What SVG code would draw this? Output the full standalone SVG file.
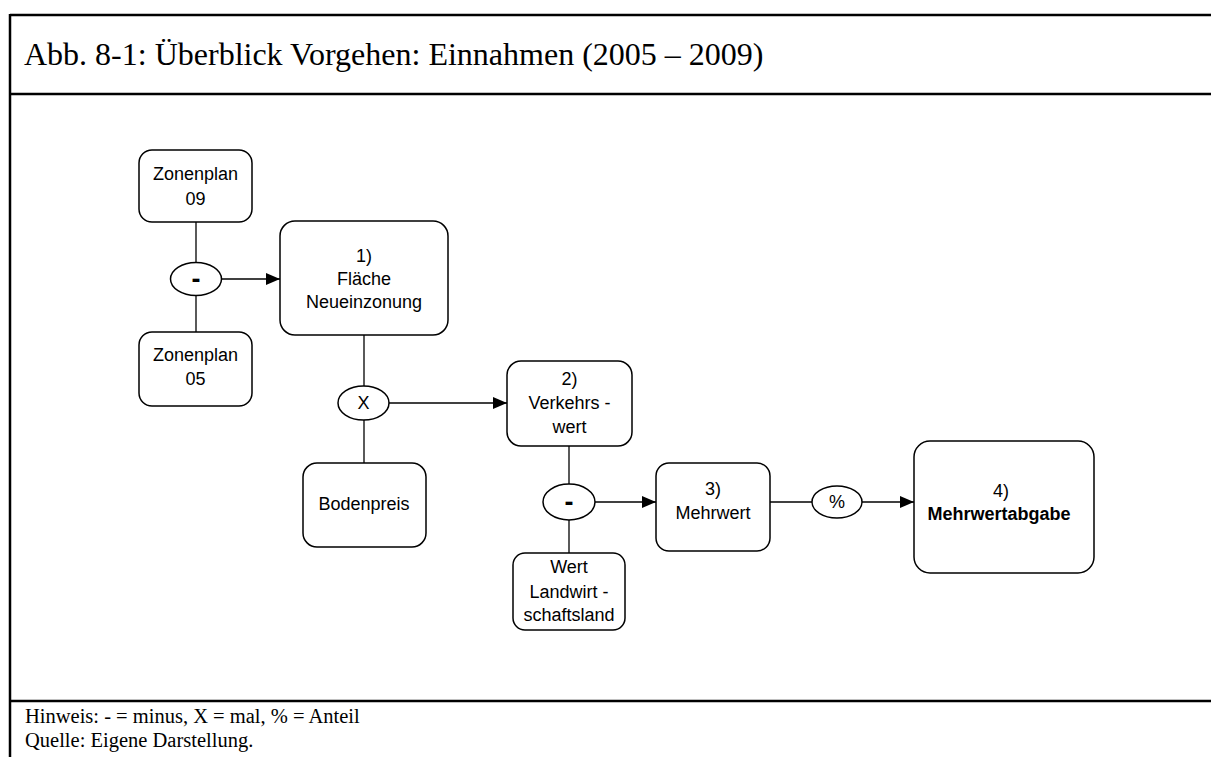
<svg xmlns="http://www.w3.org/2000/svg" width="1211" height="757" viewBox="0 0 1211 757">
<style>
.frame{stroke:#000;stroke-width:2.5;fill:none}
.box{fill:#fff;stroke:#000;stroke-width:1.5}
.op{fill:#fff;stroke:#000;stroke-width:1.5}
.t{font-family:"Liberation Sans",Arial,sans-serif;font-size:18px;fill:#000;text-anchor:middle}
.b{font-weight:bold}
.opt{font-family:"Liberation Sans",Arial,sans-serif;font-size:18px;fill:#000;text-anchor:middle}
.minus{font-family:"Liberation Sans",Arial,sans-serif;font-size:27px;font-weight:bold;fill:#000;text-anchor:middle}
.serif{font-family:"Liberation Serif","Times New Roman",serif;fill:#000}
.c{stroke:#000;stroke-width:1.3;fill:none}
</style>
<defs>
<marker id="arr" markerUnits="userSpaceOnUse" markerWidth="14" markerHeight="12" refX="14" refY="6" orient="auto">
<path d="M0,0 L14,6 L0,12 z" fill="#000"/>
</marker>
</defs>
<rect width="1211" height="757" fill="#fff"/>
<g id="frame">
<line class="frame" x1="10" y1="15" x2="1211" y2="15"/>
<line class="frame" x1="10" y1="94" x2="1211" y2="94"/>
<line class="frame" x1="10" y1="701" x2="1211" y2="701"/>
<line class="frame" x1="10" y1="14" x2="10" y2="757"/>
<text class="serif" x="24" y="65" font-size="32">Abb. 8-1: Überblick Vorgehen: Einnahmen (2005 – 2009)</text>
<text class="serif" x="25" y="723" font-size="20.5">Hinweis: - = minus, X = mal, % = Anteil</text>
<text class="serif" x="25" y="747" font-size="20.5">Quelle: Eigene Darstellung.</text>
</g>
<g id="connectors">
<line class="c" x1="196" y1="222" x2="196" y2="262"/>
<line class="c" x1="196" y1="295" x2="196" y2="332"/>
<line class="c" x1="221" y1="279" x2="280" y2="279" marker-end="url(#arr)"/>
<line class="c" x1="364" y1="335" x2="364" y2="386"/>
<line class="c" x1="364" y1="420" x2="364" y2="463"/>
<line class="c" x1="389" y1="403" x2="507" y2="403" marker-end="url(#arr)"/>
<line class="c" x1="569" y1="446" x2="569" y2="484"/>
<line class="c" x1="569" y1="520" x2="569" y2="553"/>
<line class="c" x1="595" y1="502" x2="656" y2="502" marker-end="url(#arr)"/>
<line class="c" x1="770" y1="502" x2="812" y2="502"/>
<line class="c" x1="862" y1="502" x2="914" y2="502" marker-end="url(#arr)"/>
</g>
<g id="zonenplan09">
<rect class="box" x="139" y="150" width="113" height="72" rx="13"/>
<text class="t" x="195.5" y="180">Zonenplan</text>
<text class="t" x="195.5" y="205">09</text>
</g>
<g id="minus1">
<ellipse class="op" cx="196" cy="279" rx="25.5" ry="16.5"/>
<text class="minus" x="196" y="288">-</text>
</g>
<g id="zonenplan05">
<rect class="box" x="139" y="332" width="113" height="74" rx="13"/>
<text class="t" x="195.5" y="361">Zonenplan</text>
<text class="t" x="195.5" y="385">05</text>
</g>
<g id="flaeche">
<rect class="box" x="280" y="221" width="168" height="114" rx="15"/>
<text class="t" x="364" y="262">1)</text>
<text class="t" x="364" y="285">Fläche</text>
<text class="t" x="364" y="308">Neueinzonung</text>
</g>
<g id="mal">
<ellipse class="op" cx="363.5" cy="403" rx="25.5" ry="17"/>
<text class="opt" x="363.5" y="408.5">X</text>
</g>
<g id="bodenpreis">
<rect class="box" x="303" y="463" width="123" height="84" rx="14"/>
<text class="t" x="364" y="510">Bodenpreis</text>
</g>
<g id="verkehrswert">
<rect class="box" x="507" y="361" width="125" height="85" rx="14"/>
<text class="t" x="569.5" y="385">2)</text>
<text class="t" x="569.5" y="409">Verkehrs -</text>
<text class="t" x="569.5" y="433">wert</text>
</g>
<g id="minus2">
<ellipse class="op" cx="569" cy="502" rx="26" ry="18"/>
<text class="minus" x="569" y="511">-</text>
</g>
<g id="wert">
<rect class="box" x="513" y="553" width="112" height="77" rx="12"/>
<text class="t" x="569" y="573">Wert</text>
<text class="t" x="569" y="598">Landwirt -</text>
<text class="t" x="569" y="621">schaftsland</text>
</g>
<g id="mehrwert">
<rect class="box" x="656" y="463" width="114" height="88" rx="13"/>
<text class="t" x="713" y="495">3)</text>
<text class="t" x="713" y="519">Mehrwert</text>
</g>
<g id="anteil">
<ellipse class="op" cx="837" cy="502" rx="25" ry="16"/>
<text class="opt" x="837" y="508">%</text>
</g>
<g id="mehrwertabgabe">
<rect class="box" x="914" y="441" width="180" height="132" rx="16"/>
<text class="t" x="1001" y="497">4)</text>
<text class="t b" x="999" y="520">Mehrwertabgabe</text>
</g>
</svg>
